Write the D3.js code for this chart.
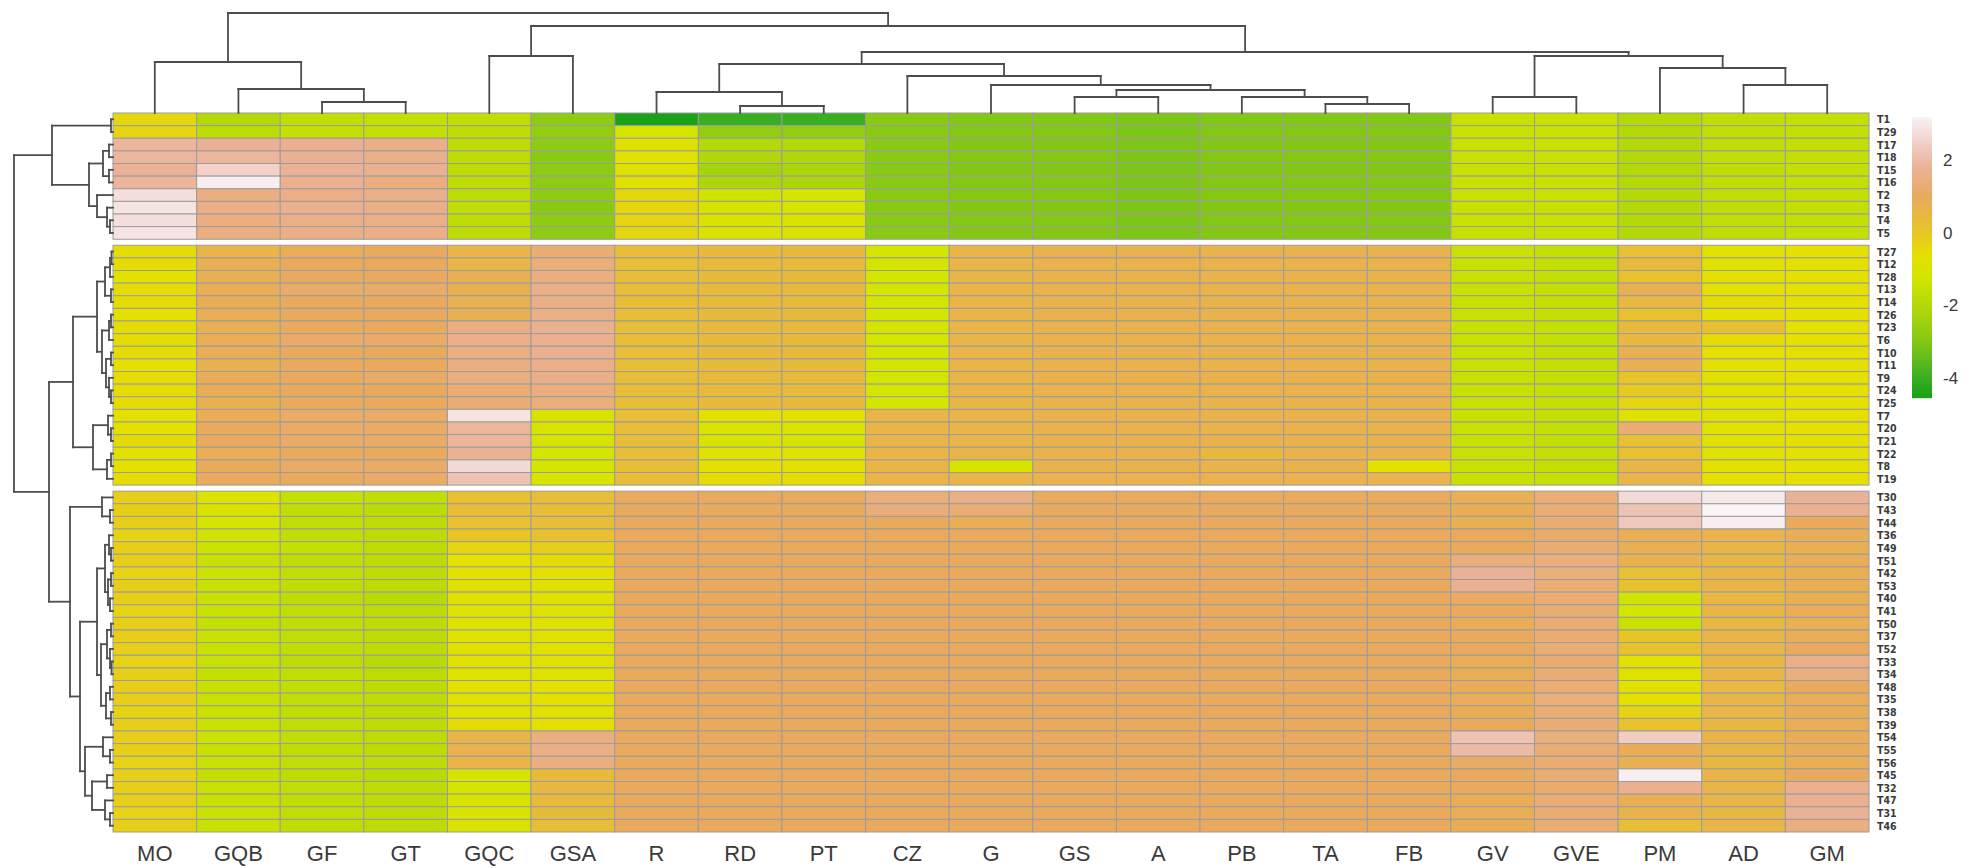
<!DOCTYPE html>
<html>
<head>
<meta charset="utf-8">
<script src="https://cdn.jsdelivr.net/npm/d3@7"></script>
<style>
  body { margin: 0; background: #ffffff; }
  svg { display: block; }
</style>
</head>
<body>
<svg id="chart" width="1978" height="868"></svg>
<script>
// ---- Column (trait) labels, left to right ----
const columns = ["MO","GQB","GF","GT","GQC","GSA","R","RD","PT","CZ","G","GS","A","PB","TA","FB","GV","GVE","PM","AD","GM"];

// ---- Row (sample) labels, top to bottom, by cluster block ----
const rowsBlock1 = ["T1","T29","T17","T18","T15","T16","T2","T3","T4","T5"];
const rowsBlock2 = ["T27","T12","T28","T13","T14","T26","T23","T6","T10","T11","T9","T24","T25","T7","T20","T21","T22","T8","T19"];
const rowsBlock3 = ["T30","T43","T44","T36","T49","T51","T42","T53","T40","T41","T50","T37","T52","T33","T34","T48","T35","T38","T39","T54","T55","T56","T45","T32","T47","T31","T46"];

// ---- Scaled values per column (rows in the order above: 10 | 19 | 27) ----
const vMO  = [-0.4,-0.3,1.9,1.9,1.8,1.9,2.8,2.9,2.8,2.9,
  -0.5,-0.5,-0.6,-0.5,-0.5,-0.6,-0.5,-0.5,-0.5,-0.6,-0.5,-0.5,-0.5,-0.6,-0.6,-0.5,-0.6,-0.6,-0.5,
  -0.2,-0.2,-0.2,-0.3,-0.2,-0.2,-0.3,-0.2,-0.2,-0.3,-0.2,-0.2,-0.2,-0.3,-0.2,-0.2,-0.2,-0.3,-0.2,-0.2,-0.2,-0.3,-0.2,-0.2,-0.2,-0.3,-0.2];
const vGQB = [-2.0,-1.8,1.8,1.9,2.5,3.1,1.5,1.6,1.5,1.5,
  0.6,0.8,0.8,0.9,0.9,0.9,0.8,0.9,0.9,0.8,0.9,0.9,0.8,0.9,1.0,1.0,0.9,1.0,1.0,
  -0.9,-1.0,-1.2,-1.3,-1.4,-1.5,-1.4,-1.5,-1.5,-1.5,-1.6,-1.5,-1.5,-1.5,-1.6,-1.5,-1.5,-1.5,-1.5,-1.4,-1.5,-1.5,-1.6,-1.5,-1.5,-1.5,-1.5];
const vGF  = [-1.7,-1.6,1.7,1.7,1.8,1.7,1.6,1.7,1.6,1.6,
  0.9,1.0,1.0,1.1,1.0,1.0,1.0,1.1,1.0,1.0,1.0,1.0,1.0,1.1,1.1,1.1,1.0,1.1,1.0,
  -1.6,-1.7,-1.7,-1.7,-1.6,-1.7,-1.7,-1.7,-1.8,-1.7,-1.7,-1.7,-1.7,-1.8,-1.7,-1.7,-1.7,-1.7,-1.7,-1.7,-1.7,-1.7,-1.8,-1.7,-1.7,-1.7,-1.7];
const vGT  = [-1.6,-1.6,1.6,1.6,1.7,1.5,1.6,1.6,1.6,1.6,
  1.0,1.0,1.0,1.1,1.0,1.0,1.0,1.1,1.0,1.0,1.1,1.0,1.0,1.1,1.1,1.1,1.0,1.1,1.1,
  -1.7,-1.8,-1.8,-1.8,-1.8,-1.8,-1.8,-1.8,-1.9,-1.8,-1.8,-1.8,-1.8,-1.9,-1.8,-1.8,-1.8,-1.8,-1.8,-1.8,-1.8,-1.8,-1.9,-1.8,-1.8,-1.8,-1.8];
const vGQC = [-1.7,-1.8,-1.8,-1.8,-1.8,-1.8,-1.8,-1.7,-1.8,-1.8,
  0.6,0.6,0.8,0.8,0.8,0.8,1.5,1.6,1.5,1.5,1.5,1.3,1.3,2.9,1.9,1.9,1.8,2.7,2.2,
  0.2,0.3,0.2,0.0,-0.3,-0.6,-0.6,-0.8,-0.7,-0.8,-0.8,-0.8,-0.8,-0.7,-0.8,-0.6,-0.8,-0.7,-0.5,0.6,0.7,0.6,-1.0,-1.1,-1.1,-1.0,-1.0];
const vGSA = [-2.8,-2.7,-2.8,-2.9,-2.8,-2.8,-2.8,-2.9,-2.8,-2.8,
  1.3,1.4,1.5,1.6,1.6,1.6,1.7,1.7,1.7,1.6,1.6,1.5,1.4,-1.0,-1.1,-1.1,-1.2,-1.2,-1.1,
  0.3,0.3,0.3,0.2,-0.2,-0.5,-0.6,-0.7,-0.7,-0.8,-0.8,-0.7,-0.7,-0.7,-0.8,-0.6,-0.6,-0.7,-0.6,1.5,1.6,1.5,0.4,0.5,0.4,0.4,0.3];
const vR   = [-4.5,-1.2,-0.8,-0.7,-0.8,-0.7,-0.4,-0.4,-0.3,-0.4,
  0.3,0.3,0.3,0.3,0.3,0.3,0.3,0.3,0.3,0.3,0.3,0.3,0.3,0.3,0.3,0.3,0.3,0.3,0.3,
  1.0,1.0,1.0,1.0,1.0,1.0,1.0,1.0,1.0,1.0,1.0,1.0,1.0,1.0,1.0,1.0,1.0,1.0,1.0,1.0,1.0,1.0,1.0,1.0,1.0,1.0,1.0];
const vRD  = [-4.0,-2.7,-2.0,-2.1,-2.3,-2.2,-1.3,-1.1,-1.0,-1.0,
  0.4,0.4,0.4,0.4,0.4,0.4,0.4,0.4,0.4,0.4,0.4,0.4,0.4,-0.6,-1.0,-1.0,-0.8,-0.6,-0.5,
  1.0,1.0,1.0,1.0,1.0,1.0,1.0,1.0,1.0,1.0,1.0,1.0,1.0,1.0,1.0,1.0,1.0,1.0,1.0,1.0,1.0,1.0,1.0,1.0,1.0,1.0,1.0];
const vPT  = [-4.0,-2.7,-2.0,-2.1,-2.2,-2.2,-1.2,-1.1,-1.0,-1.0,
  0.4,0.4,0.4,0.4,0.4,0.4,0.4,0.4,0.4,0.4,0.4,0.4,0.4,-0.6,-1.0,-1.0,-0.8,-0.6,-0.5,
  1.0,1.0,1.0,1.0,1.0,1.0,1.0,1.0,1.0,1.0,1.0,1.0,1.0,1.0,1.0,1.0,1.0,1.0,1.0,1.0,1.0,1.0,1.0,1.0,1.0,1.0,1.0];
const vCZ  = [-2.9,-2.9,-2.9,-2.9,-2.9,-2.9,-2.9,-2.9,-2.9,-2.9,
  -1.2,-1.2,-1.2,-1.2,-1.2,-1.2,-1.2,-1.2,-1.2,-1.2,-1.2,-1.2,-1.2,0.6,0.6,0.6,0.6,0.6,0.6,
  1.4,1.4,1.0,1.0,1.0,1.0,1.0,1.0,1.0,1.0,1.0,1.0,1.0,1.0,1.0,1.0,1.0,1.0,1.0,1.0,1.0,1.0,1.0,1.0,1.0,1.0,1.0];
const vG   = [-3.0,-3.0,-3.0,-3.0,-3.0,-3.0,-3.0,-3.0,-3.0,-3.0,
  0.6,0.6,0.6,0.6,0.6,0.6,0.6,0.6,0.6,0.6,0.6,0.6,0.6,0.6,0.6,0.6,0.6,-1.0,0.6,
  1.6,1.3,0.9,1.0,1.0,1.0,1.0,1.0,1.0,1.0,1.0,1.0,1.0,1.0,1.0,1.0,1.0,1.0,1.0,1.0,1.0,1.0,1.0,1.0,1.0,1.0,1.0];
const vGS  = [-3.0,-3.0,-3.0,-3.0,-3.0,-3.0,-3.0,-3.0,-3.0,-3.0,
  0.7,0.7,0.7,0.7,0.7,0.7,0.7,0.7,0.7,0.7,0.7,0.7,0.7,0.7,0.7,0.7,0.7,0.7,0.7,
  1.0,1.0,1.0,1.0,1.0,1.0,1.0,1.0,1.0,1.0,1.0,1.0,1.0,1.0,1.0,1.0,1.0,1.0,1.0,1.0,1.0,1.0,1.0,1.0,1.0,1.0,1.0];
const vA   = [-3.1,-3.1,-3.1,-3.1,-3.1,-3.1,-3.1,-3.1,-3.1,-3.1,
  0.7,0.7,0.7,0.7,0.7,0.7,0.7,0.7,0.7,0.7,0.7,0.7,0.7,0.7,0.7,0.7,0.7,0.7,0.7,
  1.0,1.0,1.0,1.0,1.0,1.0,1.0,1.0,1.0,1.0,1.0,1.0,1.0,1.0,1.0,1.0,1.0,1.0,1.0,1.0,1.0,1.0,1.0,1.0,1.0,1.0,1.0];
const vPB  = [-3.0,-3.0,-3.0,-3.0,-3.0,-3.0,-3.0,-3.0,-3.0,-3.0,
  0.7,0.7,0.7,0.7,0.7,0.7,0.7,0.7,0.7,0.7,0.7,0.7,0.7,0.7,0.7,0.7,0.4,0.7,0.7,
  1.0,1.0,1.0,1.0,1.0,1.0,1.0,1.0,1.0,1.0,1.0,1.0,1.0,1.0,1.0,1.0,1.0,1.0,1.0,1.0,1.0,1.0,1.0,1.0,1.0,1.0,1.0];
const vTA  = [-3.0,-3.0,-3.0,-3.0,-3.0,-3.0,-3.0,-3.0,-3.0,-3.0,
  0.7,0.7,0.7,0.7,0.7,0.7,0.7,0.7,0.7,0.7,0.7,0.7,0.7,0.7,0.7,0.7,0.7,0.7,0.7,
  1.0,1.0,1.0,1.0,1.0,1.0,1.0,1.0,1.0,1.0,1.0,1.0,1.0,1.0,1.0,1.0,1.0,1.0,1.0,1.0,1.0,1.0,1.0,1.0,1.0,1.0,1.0];
const vFB  = [-3.0,-3.0,-3.0,-3.0,-3.0,-3.0,-3.0,-3.0,-3.0,-3.0,
  0.7,0.7,0.7,0.7,0.7,0.7,0.7,0.7,0.7,0.7,0.7,0.7,0.7,0.7,0.7,0.7,0.7,-0.6,0.7,
  1.0,1.0,1.0,1.0,1.0,1.0,1.0,1.0,1.0,1.0,1.0,1.0,1.0,1.0,1.0,1.0,1.0,1.0,1.0,1.0,1.0,1.0,1.0,1.0,1.0,1.0,1.0];
const vGV  = [-1.5,-1.5,-1.5,-1.5,-1.5,-1.5,-1.5,-1.5,-1.5,-1.5,
  -1.5,-1.5,-1.5,-1.5,-1.5,-1.5,-1.5,-1.5,-1.5,-1.5,-1.5,-1.5,-1.5,-1.5,-1.5,-1.5,-1.5,-1.5,-1.5,
  0.8,0.9,0.8,1.0,1.0,1.4,1.8,1.7,1.1,1.0,0.9,1.0,1.0,0.9,0.9,0.9,0.9,0.9,1.0,2.2,2.0,1.1,1.0,1.0,0.9,0.9,0.9];
const vGVE = [-1.5,-1.5,-1.5,-1.5,-1.5,-1.5,-1.5,-1.5,-1.5,-1.5,
  -1.6,-1.6,-1.6,-1.6,-1.6,-1.6,-1.6,-1.6,-1.6,-1.6,-1.6,-1.6,-1.6,-1.6,-1.6,-1.6,-1.6,-1.6,-1.6,
  1.3,1.3,1.3,1.2,1.3,1.4,1.4,1.3,1.3,1.3,1.3,1.3,1.3,1.2,1.3,1.3,1.4,1.3,1.3,1.4,1.3,1.3,1.3,1.2,1.3,1.3,1.3];
const vPM  = [-2.0,-2.0,-2.0,-2.0,-2.0,-2.0,-2.0,-2.0,-2.0,-2.0,
  0.2,0.4,0.1,0.8,0.5,0.1,0.4,0.5,0.8,0.8,0.0,-0.1,-0.3,-0.8,1.3,0.2,0.1,0.6,0.6,
  2.7,2.2,2.3,0.8,0.8,0.7,0.2,0.1,-1.3,-1.2,-1.5,0.0,0.1,-0.6,-0.7,-0.7,-0.6,-0.3,0.1,2.4,0.9,0.8,3.1,1.7,0.8,0.7,0.3];
const vAD  = [-1.7,-1.7,-1.7,-1.7,-1.7,-1.7,-1.7,-1.7,-1.7,-1.7,
  -0.7,-0.7,-0.6,-0.6,-0.5,-0.6,0.2,-0.5,-0.6,-0.6,-0.7,-0.7,-0.7,-0.8,-0.7,-0.7,-0.7,-0.6,-0.6,
  3.0,3.2,3.1,0.7,0.6,0.5,0.6,0.6,0.5,0.6,0.5,0.6,0.6,0.5,0.6,0.5,0.6,0.6,0.5,0.6,0.6,0.5,0.6,0.6,0.6,0.5,0.6];
const vGM  = [-1.6,-1.6,-1.6,-1.6,-1.6,-1.6,-1.6,-1.6,-1.6,-1.6,
  -0.6,-0.6,-0.6,-0.6,-0.6,-0.6,-0.6,-0.6,-0.6,-0.6,-0.6,-0.6,-0.6,-0.6,-0.6,-0.6,-0.6,-0.6,-0.6,
  1.8,1.7,1.0,0.9,0.8,0.9,0.8,0.8,0.8,0.9,0.8,0.9,1.0,1.6,1.5,1.0,0.9,0.9,0.9,0.9,0.9,0.9,1.0,1.7,1.7,1.8,1.5];

// ---- Column dendrogram: [height, left, right] ----
const colTree = [100,
  [51, "MO", [24, "GQB", [11, "GF", "GT"]]],
  [87, [57, "GQC", "GSA"],
       [61, [49, [21, "R", [7, "RD", "PT"]],
                 [37, "CZ", [28, "G", [23, [16, "GS", "A"], [16, "PB", [9, "TA", "FB"]]]]]],
            [57, [16, "GV", "GVE"], [45, "PM", [28, "AD", "GM"]]]]]];

// ---- Row dendrogram: [height, upper, lower] ----
const rowTree1 = [61, [2, "T1", "T29"],
  [24, [10, [4, "T17", "T18"], [4, "T15", "T16"]], [16, "T2", [6, "T3", [3, "T4", "T5"]]]]];
const rowTree2 = [40,
  [16, [8, [3, [1.5, "T27", "T12"], "T28"], [2, "T13", "T14"]],
       [11, [4, [2, "T26", "T23"], "T6"], [7, [2, "T10", "T11"], [4, "T9", [2, "T24", "T25"]]]]],
  [20, [5, "T7", [2, "T20", "T21"]], [6, [2, "T22", "T8"], "T19"]]];
const rowTree3 = [43, [11, "T30", [3, "T43", "T44"]],
  [33,
    [16, [8, [4, "T36", [2, "T49", "T51"]], [5, [2, "T42", "T53"], [3, "T40", "T41"]]],
         [12, [6, [2, "T50", "T37"], [3, "T52", [1.5, "T33", "T34"]]], [7, [3, "T48", "T35"], [2, "T38", "T39"]]]],
    [28, [10, "T54", [3, "T55", "T56"]], [21, [6, "T45", "T32"], [8, "T47", [3, "T31", "T46"]]]]]];
const rowTree = [99, rowTree1, [64, rowTree2, rowTree3]];

// ---- Colour ramp and legend ticks ----
const colorStops  = [-4.6, -4.0, -3.0, -2.0, -1.2, -0.6, 0.0, 1.0, 1.8, 2.6, 3.2];
const colorValues = ["#14a014","#3aae22","#84c816","#b4d908","#d4e500","#e4e000","#e8c526","#e9aa5e","#ebb196","#f2d5d1","#f9f3f5"];
const legendTicks = [2, 0, -2, -4];

// ================= drawing =================
const svg = d3.select("#chart");
const valueColumns = [vMO,vGQB,vGF,vGT,vGQC,vGSA,vR,vRD,vPT,vCZ,vG,vGS,vA,vPB,vTA,vFB,vGV,vGVE,vPM,vAD,vGM];
const blocks = [rowsBlock1, rowsBlock2, rowsBlock3];
const allRows = blocks.flat();

const heat = { left: 113, right: 1869, top: 113, bottom: 832, gap: 6 };
const rowH = (heat.bottom - heat.top - heat.gap * (blocks.length - 1)) / allRows.length;

const x = d3.scaleBand().domain(columns).range([heat.left, heat.right]);

// one band scale per block so the blocks are separated by a white gap
const blockScales = [];
let cursor = heat.top;
blocks.forEach(b => {
  const s = d3.scaleBand().domain(b).range([cursor, cursor + b.length * rowH]);
  blockScales.push(s);
  cursor += b.length * rowH + heat.gap;
});
const yOf = name => {
  for (const s of blockScales) if (s.domain().includes(name)) return s(name);
};
const yMid = name => yOf(name) + rowH / 2;

const color = d3.scaleLinear().domain(colorStops).range(colorValues)
  .interpolate(d3.interpolateRgb).clamp(true);

// heatmap cells
const cells = [];
columns.forEach((c, ci) => allRows.forEach((r, ri) => cells.push({ c, r, v: valueColumns[ci][ri] })));
svg.append("g").selectAll("rect").data(cells).join("rect")
  .attr("x", d => x(d.c))
  .attr("y", d => yOf(d.r))
  .attr("width", x.bandwidth())
  .attr("height", rowH)
  .attr("fill", d => color(d.v))
  .attr("stroke", "#9c9c9c")
  .attr("stroke-width", 1);

// dendrograms
function drawTree(tree, leafPos, hScale, horizontal) {
  const segs = [];
  function walk(node) {
    if (typeof node === "string") return { p: leafPos(node), h: 0 };
    const [h, a, b] = node;
    const la = walk(a), lb = walk(b);
    segs.push([la.p, la.h, la.p, h]);
    segs.push([lb.p, lb.h, lb.p, h]);
    segs.push([la.p, h, lb.p, h]);
    return { p: (la.p + lb.p) / 2, h };
  }
  walk(tree);
  const g = svg.append("g").attr("stroke", "#4d4d4d").attr("stroke-width", 1.8)
    .attr("stroke-linecap", "square").attr("fill", "none");
  g.selectAll("line").data(segs).join("line")
    .attr(horizontal ? "x1" : "y1", d => hScale(d[1]))
    .attr(horizontal ? "y1" : "x1", d => d[0])
    .attr(horizontal ? "x2" : "y2", d => hScale(d[3]))
    .attr(horizontal ? "y2" : "x2", d => d[2]);
}
const colHeight = d3.scaleLinear().domain([0, 100]).range([heat.top, 13]);
drawTree(colTree, c => x(c) + x.bandwidth() / 2, colHeight, false);
const rowHeight = d3.scaleLinear().domain([0, 99]).range([heat.left, 14]);
drawTree(rowTree, yMid, rowHeight, true);

// column labels
svg.append("g").selectAll("text").data(columns).join("text")
  .attr("x", c => x(c) + x.bandwidth() / 2)
  .attr("y", 861)
  .attr("text-anchor", "middle")
  .attr("font-family", "Liberation Sans, Arial, sans-serif")
  .attr("font-size", 22)
  .attr("fill", "#3a3a3a")
  .text(c => c);

// row labels
svg.append("g").selectAll("text").data(allRows).join("text")
  .attr("x", 1877)
  .attr("y", r => yMid(r))
  .attr("dominant-baseline", "central")
  .attr("font-family", "Liberation Sans Narrow, DejaVu Sans Condensed, Arial, sans-serif")
  .attr("font-stretch", "condensed")
  .attr("font-weight", "bold")
  .attr("font-size", 10.5)
  .attr("fill", "#3a3a3a")
  .text(r => r);

// colour legend
const legend = d3.scaleLinear().domain([-4.55, 3.2]).range([398, 117]);
const legendSteps = d3.range(117, 398, 1);
const lg = svg.append("g");
lg.selectAll("rect").data(legendSteps).join("rect")
  .attr("x", 1912).attr("y", d => d).attr("width", 20).attr("height", 1.2)
  .attr("fill", d => color(legend.invert(d + 0.5)));
lg.selectAll("text").data(legendTicks).join("text")
  .attr("x", 1943).attr("y", d => legend(d))
  .attr("dominant-baseline", "central")
  .attr("font-family", "Liberation Sans, Arial, sans-serif")
  .attr("font-size", 17)
  .attr("fill", "#3a3a3a")
  .text(d => d);
</script>
</body>
</html>
